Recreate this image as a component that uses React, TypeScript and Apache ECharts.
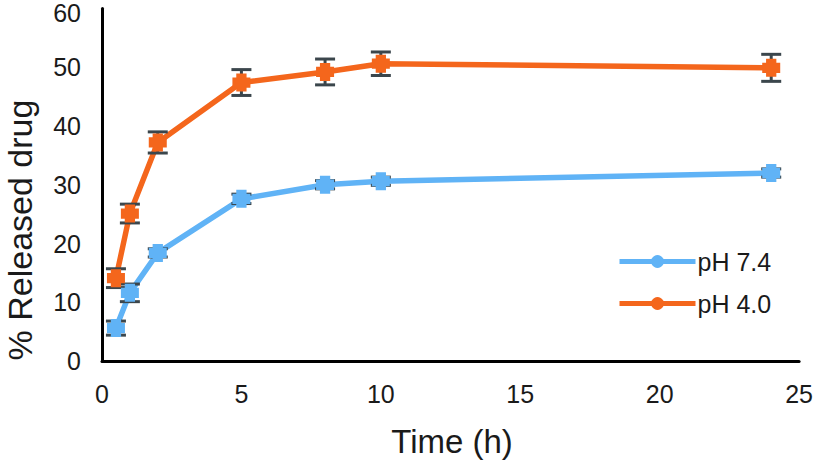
import React, { useEffect, useRef } from "react";
import * as echarts from "echarts";

const timesH = [0.5, 1, 2, 5, 8, 10, 24];
const ph74Values = [5.6, 11.6, 18.4, 27.6, 30.0, 30.6, 32.0];
const ph74Errors = [1.2, 1.5, 0.7, 0.8, 0.7, 0.7, 0.7];
const ph40Values = [14.1, 25.1, 37.2, 47.4, 49.2, 50.6, 49.9];
const ph40Errors = [1.6, 1.6, 1.8, 2.2, 2.2, 2.0, 2.3];
const seriesNames = ["pH 7.4", "pH 4.0"];
const xTicks = [0, 5, 10, 15, 20, 25];
const yTicks = [0, 10, 20, 30, 40, 50, 60];

const BLUE = "#60b3f6";
const ORANGE = "#f4661c";
const ERR = "#3b464c";
const FONT = "'Liberation Sans', Arial, Helvetica, sans-serif";
const CROSS = "path://M3,0H11V3H14V11H11V14H3V11H0V3H3Z";

function errData(vals: number[], errs: number[]) {
  return timesH.map((t, i) => [t, vals[i] - errs[i], vals[i] + errs[i]]);
}

function errRender(params: any, api: any) {
  const x = api.value(0);
  const lo = api.coord([x, api.value(1)]);
  const hi = api.coord([x, api.value(2)]);
  const hw = 10;
  const style = { stroke: ERR, lineWidth: 3 };
  return {
    type: "group",
    children: [
      { type: "line", shape: { x1: lo[0], y1: lo[1], x2: hi[0], y2: hi[1] }, style },
      { type: "line", shape: { x1: lo[0] - hw, y1: lo[1], x2: lo[0] + hw, y2: lo[1] }, style },
      { type: "line", shape: { x1: hi[0] - hw, y1: hi[1], x2: hi[0] + hw, y2: hi[1] }, style },
    ],
  };
}

export default function App() {
  const ref = useRef<HTMLDivElement>(null);
  useEffect(() => {
    if (!ref.current) return;
    const chart = echarts.init(ref.current, null, { renderer: "svg" });
    const pts = (vals: number[]) => timesH.map((t, i) => [t, vals[i]]);
    const yMax = yTicks[yTicks.length - 1];
    chart.setOption({
      animation: false,
      grid: { left: 102, right: 14, top: 8, bottom: 99 },
      xAxis: {
        type: "value",
        min: xTicks[0],
        max: xTicks[xTicks.length - 1],
        interval: 5,
        axisLine: { lineStyle: { color: "#000", width: 3 } },
        axisTick: { show: false },
        splitLine: { show: false },
        axisLabel: { fontSize: 25, color: "#1a1a1a", fontFamily: FONT, margin: 20 },
      },
      yAxis: {
        type: "value",
        min: yTicks[0],
        max: yMax,
        interval: 10,
        axisLine: { show: true, lineStyle: { color: "#000", width: 3 } },
        axisTick: { show: false },
        splitLine: { show: false },
        axisLabel: {
          fontSize: 25,
          color: "#1a1a1a",
          fontFamily: FONT,
          margin: 21,
          formatter: (v: number) => (v === yMax ? `{top|${v}}` : `${v}`),
          rich: { top: { fontSize: 25, fontFamily: FONT, color: "#1a1a1a", padding: [8, 0, 0, 0] } },
        },
      },
      legend: {
        data: seriesNames,
        orient: "vertical",
        left: 612,
        top: 244,
        itemWidth: 76,
        itemHeight: 16,
        itemGap: 17,
        textStyle: { fontSize: 25, color: "#1a1a1a", fontFamily: FONT, padding: [0, 0, 0, -3] },
        lineStyle: { width: 5 },
      },
      graphic: [
        {
          type: "text",
          x: 20,
          y: 230,
          rotation: Math.PI / 2,
          style: {
            text: "% Released drug",
            font: `34px ${FONT}`,
            fill: "#1a1a1a",
            textAlign: "center",
            textVerticalAlign: "middle",
          },
        },
        {
          type: "text",
          x: 452,
          y: 441,
          style: {
            text: "Time (h)",
            font: `33px ${FONT}`,
            fill: "#1a1a1a",
            textAlign: "center",
            textVerticalAlign: "middle",
          },
        },
      ],
      series: [
        {
          name: seriesNames[0],
          type: "line",
          data: pts(ph74Values),
          symbol: "none",
          lineStyle: { color: BLUE, width: 5.5 },
          itemStyle: { color: BLUE },
          z: 2,
        },
        {
          name: seriesNames[1],
          type: "line",
          data: pts(ph40Values),
          symbol: "none",
          lineStyle: { color: ORANGE, width: 5.5 },
          itemStyle: { color: ORANGE },
          z: 2,
        },
        {
          name: "err74",
          type: "custom",
          data: errData(ph74Values, ph74Errors),
          renderItem: errRender,
          encode: { x: 0, y: [1, 2] },
          z: 3,
        },
        {
          name: "err40",
          type: "custom",
          data: errData(ph40Values, ph40Errors),
          renderItem: errRender,
          encode: { x: 0, y: [1, 2] },
          z: 3,
        },
        {
          name: "m74",
          type: "scatter",
          data: pts(ph74Values),
          symbol: CROSS,
          symbolSize: 18,
          itemStyle: { color: BLUE, opacity: 1 },
          z: 4,
        },
        {
          name: "m40",
          type: "scatter",
          data: pts(ph40Values),
          symbol: CROSS,
          symbolSize: 18,
          itemStyle: { color: ORANGE, opacity: 1 },
          z: 4,
        },
      ],
    });
    return () => chart.dispose();
  }, []);
  return (
    <div
      ref={ref}
      style={{ position: "absolute", left: 0, top: 0, width: 816, height: 460 }}
    />
  );
}
